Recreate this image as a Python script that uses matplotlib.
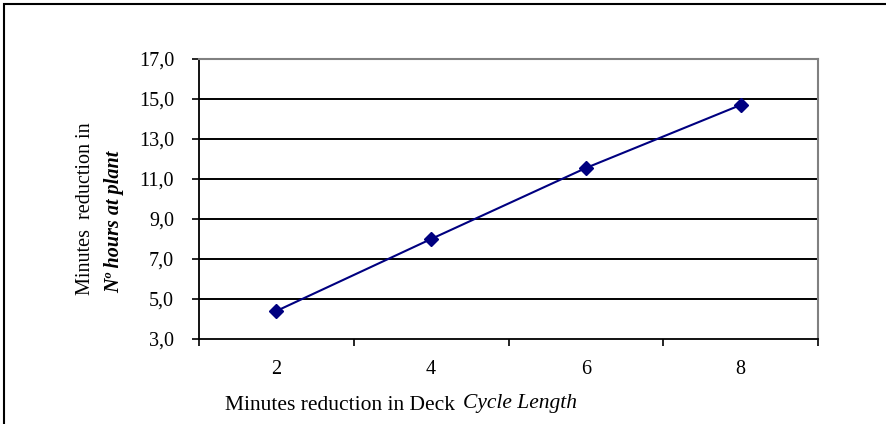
import numpy as np
import matplotlib.pyplot as plt
from matplotlib.patches import Rectangle

plt.rcParams['font.family'] = ['Liberation Serif', 'DejaVu Serif']

# minutes reduction in deck cycle length vs. minutes reduction at plant
categories = ['2', '4', '6', '8']
reduction = [4.4, 8.0, 11.55, 14.7]
y_ticks = [3, 5, 7, 9, 11, 13, 15, 17]

W, H = 886, 424
fig = plt.figure(figsize=(W / 100, H / 100), dpi=100)
ax = fig.add_axes([199 / W, 1 - 339 / H, 619 / W, 280 / H])

x = np.arange(len(categories))
ax.plot(x, reduction, '-', color='#000080', lw=1.5,
        marker='D', ms=7.5, mfc='#000080', mec='#000080', zorder=3)

ax.set_xlim(-0.5, len(categories) - 0.5)
ax.set_ylim(3, 17)

# tick marks between categories, labels centred on categories
ax.set_xticks(np.arange(-0.5, len(categories), 1.0))
ax.set_xticklabels([])
ax.set_xticks(x, minor=True)
ax.set_xticklabels(categories, minor=True)
ax.tick_params(axis='x', which='major', direction='out', length=5, width=1.2)
ax.tick_params(axis='x', which='minor', length=0, pad=15, labelsize=14.5)

ax.set_yticks(y_ticks)
ax.set_yticklabels([f'{v:.1f}'.replace('.', ',') for v in y_ticks])
ax.tick_params(axis='y', direction='out', length=5, width=1.2, pad=13, labelsize=14.5)

for v in y_ticks[1:-1]:
    ax.axhline(v, color='black', lw=1.4, zorder=1)

ax.spines['top'].set_color('#808080')
ax.spines['right'].set_color('#808080')
ax.spines['top'].set_linewidth(1.5)
ax.spines['right'].set_linewidth(1.5)
ax.spines['left'].set_linewidth(1.3)
ax.spines['bottom'].set_linewidth(1.3)

# y axis title, two lines
fig.text(86 / W, 1 - 295 / H, 'Minutes  reduction in', rotation=90,
         ha='center', va='bottom', fontsize=14.5)
fig.text(114 / W, 1 - 293 / H, 'Nº hours at plant', rotation=90,
         ha='center', va='bottom', fontsize=14.5, fontweight='bold', style='italic')

# x axis title: regular part followed by italic part
renderer = fig.canvas.get_renderer()
t1 = fig.text(225 / W, 1 - 410 / H, 'Minutes reduction in Deck',
              ha='left', va='baseline', fontsize=15.5)
x_end = t1.get_window_extent(renderer).x1 + 8
fig.text(x_end / W, 1 - 408 / H, 'Cycle Length', ha='left', va='baseline',
         fontsize=15.5, style='italic')

# chart border
fig.patches.append(Rectangle((4 / W, -0.01), 1.0, 1 - 4 / H + 0.01,
                             transform=fig.transFigure, fill=False,
                             edgecolor='black', lw=1.5))

fig.savefig('out.png', dpi=100)
